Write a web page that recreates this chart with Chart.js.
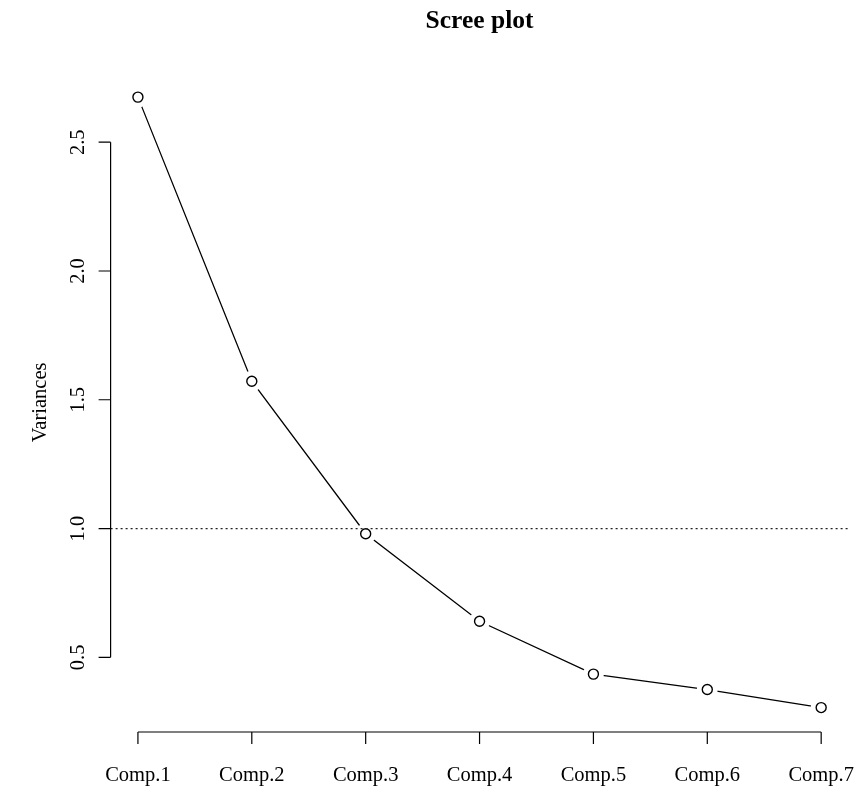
<!DOCTYPE html>
<html>
<head>
<meta charset="utf-8">
<script src="https://cdn.jsdelivr.net/npm/chart.js@4.4.4/dist/chart.umd.min.js"></script>
<style>
  html, body { margin: 0; padding: 0; background: #fff; }
  canvas { display: block; }
</style>
</head>
<body>
<canvas id="chart" width="859" height="791" style="width:859px;height:791px"></canvas>
<script>
// scree plot data
const categories = ["Comp.1", "Comp.2", "Comp.3", "Comp.4", "Comp.5", "Comp.6", "Comp.7"]
const variances = [2.675, 1.572, 0.98, 0.64, 0.435, 0.375, 0.305]
const yTicks = [0.5, 1.0, 1.5, 2.0, 2.5]
const refLine = 1.0

const FONT = "'Liberation Serif', 'DejaVu Serif', serif"

// R style axis ranges: 4% padding each side
const xs = categories.map((c, i) => i + 1)
const xPad = (xs[xs.length - 1] - xs[0]) * 0.04
const yMax = Math.max(...variances)
const yMin = Math.min(...variances)
const yPad = (yMax - yMin) * 0.04

const points = variances.map((v, i) => ({ x: xs[i], y: v }))

const rAxes = {
    id: "rAxes",
    afterDatasetsDraw(chart) {
        const { ctx, chartArea, scales } = chart
        const y1 = scales.y.getPixelForValue(refLine)
        ctx.save()
        ctx.strokeStyle = "#222"
        ctx.lineWidth = 1.2
        ctx.setLineDash([2, 3])
        ctx.beginPath()
        ctx.moveTo(chartArea.left, y1)
        ctx.lineTo(chartArea.right, y1)
        ctx.stroke()
        ctx.restore()
    },
    afterDraw(chart) {
        const { ctx, chartArea, scales } = chart
        const x = scales.x, y = scales.y
        const tick = 12
        ctx.save()
        ctx.strokeStyle = "#000"
        ctx.fillStyle = "#000"
        ctx.lineWidth = 1.2

        // x axis
        const xb = chartArea.bottom
        ctx.beginPath()
        ctx.moveTo(x.getPixelForValue(xs[0]), xb)
        ctx.lineTo(x.getPixelForValue(xs[xs.length - 1]), xb)
        xs.forEach(v => {
            const px = x.getPixelForValue(v)
            ctx.moveTo(px, xb)
            ctx.lineTo(px, xb + tick)
        })
        ctx.stroke()
        ctx.font = "20.5px " + FONT
        ctx.textAlign = "center"
        ctx.textBaseline = "middle"
        categories.forEach((c, i) => {
            ctx.fillText(c, x.getPixelForValue(xs[i]), xb + 44)
        })

        // y axis
        const xl = chartArea.left
        ctx.beginPath()
        ctx.moveTo(xl, y.getPixelForValue(yTicks[0]))
        ctx.lineTo(xl, y.getPixelForValue(yTicks[yTicks.length - 1]))
        yTicks.forEach(v => {
            const py = y.getPixelForValue(v)
            ctx.moveTo(xl, py)
            ctx.lineTo(xl - tick, py)
        })
        ctx.stroke()
        yTicks.forEach(v => {
            ctx.save()
            ctx.translate(xl - 32, y.getPixelForValue(v))
            ctx.rotate(-Math.PI / 2)
            ctx.fillText(v.toFixed(1), 0, 0)
            ctx.restore()
        })

        // y label
        ctx.save()
        ctx.translate(xl - 70, (chartArea.top + chartArea.bottom) / 2)
        ctx.rotate(-Math.PI / 2)
        ctx.fillText("Variances", 0, 0)
        ctx.restore()

        // title
        ctx.font = "bold 25.5px " + FONT
        ctx.fillText("Scree plot", (chartArea.left + chartArea.right) / 2, 21)
        ctx.restore()
    }
}

new Chart(document.getElementById("chart"), {
    type: "line",
    data: {
        datasets: [
            {
                data: points,
                borderColor: "#000",
                borderWidth: 1.3,
                pointRadius: 0,
                tension: 0,
                order: 3
            },
            {
                // white gap around each point, like R type = "b"
                data: points,
                showLine: false,
                pointRadius: 10.5,
                pointBackgroundColor: "#fff",
                pointBorderWidth: 0,
                pointBorderColor: "#fff",
                order: 2
            },
            {
                data: points,
                showLine: false,
                pointRadius: 5,
                pointBackgroundColor: "#fff",
                pointBorderColor: "#000",
                pointBorderWidth: 1.4,
                order: 1
            }
        ]
    },
    options: {
        responsive: false,
        animation: false,
        devicePixelRatio: 1,
        layout: { padding: { left: 110.6, right: 9.6, top: 72.7, bottom: 59 } },
        scales: {
            x: { type: "linear", min: xs[0] - xPad, max: xs[xs.length - 1] + xPad, display: false },
            y: { type: "linear", min: yMin - yPad, max: yMax + yPad, display: false }
        },
        plugins: { legend: { display: false }, tooltip: { enabled: false } }
    },
    plugins: [rAxes]
})
</script>
</body>
</html>
